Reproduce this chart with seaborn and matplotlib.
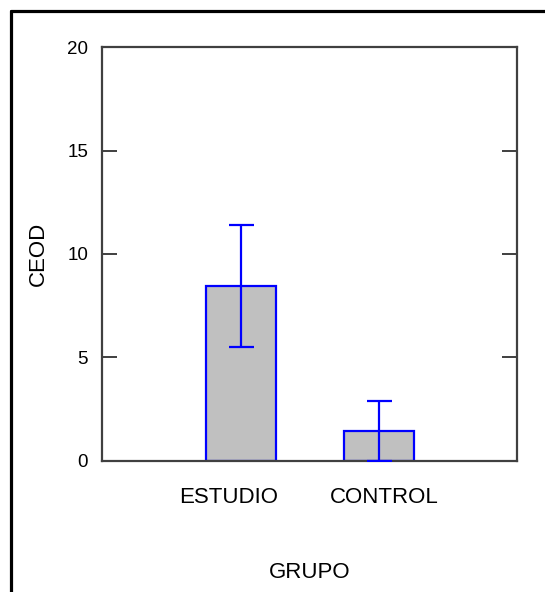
import matplotlib
matplotlib.use("Agg")
import matplotlib.pyplot as plt
import matplotlib.transforms as mtransforms
from matplotlib.lines import Line2D
import seaborn as sns
import pandas as pd

# values
grupos = ["ESTUDIO", "CONTROL"]
ceod_media = [8.45, 1.45]
ceod_error = [2.95, 1.45]

df = pd.DataFrame({"GRUPO": grupos, "CEOD": ceod_media})

sns.set_style("white")
plt.rcParams["font.family"] = ["Liberation Sans", "DejaVu Sans"]
plt.rcParams["text.color"] = "black"
plt.rcParams["axes.labelcolor"] = "black"
plt.rcParams["xtick.color"] = "black"
plt.rcParams["ytick.color"] = "black"
plt.rcParams["ytick.direction"] = "in"

fig = plt.figure(figsize=(5.45, 5.92), dpi=100)
ax = fig.add_axes([0.187, 0.2213, 0.7616, 0.6993])

sns.barplot(data=df, x="GRUPO", y="CEOD", order=grupos, color="#C0C0C0",
            edgecolor="#0000FF", linewidth=1.6, width=0.51, errorbar=None,
            saturation=1, ax=ax)
for bar in ax.patches:
    bar.set_facecolor("#C0C0C0")

ax.errorbar(x=range(len(grupos)), y=ceod_media, yerr=ceod_error, fmt="none",
            ecolor="#0000FF", elinewidth=1.6, capsize=9, capthick=1.6, zorder=5)

ax.set_xlim(-1.01, 2.0)
ax.set_ylim(0, 20)
ax.set_yticks([0, 5, 10, 15, 20])

for s in ax.spines.values():
    s.set_color("#404040")
    s.set_linewidth(1.6)
    s.set_visible(True)

ax.tick_params(axis="y", direction="in", length=11, width=1.3, color="#303030",
               labelcolor="black", left=True, right=True, labelsize=13.5, pad=10)
ax.tick_params(axis="x", length=0, labelsize=16, labelcolor="black", pad=19)

# the original labels sit a little off the bar centres
for lab, dx in zip(ax.get_xticklabels(), [-13, 5]):
    lab.set_transform(lab.get_transform() +
                      mtransforms.ScaledTranslation(dx / 100, 0, fig.dpi_scale_trans))

ax.set_xlabel("GRUPO", fontsize=16, color="black")
ax.set_ylabel("CEOD", fontsize=16, color="black")
ax.xaxis.set_label_coords(0.5, -0.2705)
ax.yaxis.set_label_coords(-0.154, 0.5)
ax.xaxis.label.set_va("center")
ax.yaxis.label.set_va("center")

# outer frame (clipped on right and bottom)
fig.add_artist(Line2D([11 / 545, 11 / 545], [0, 1 - 11 / 592], color="black",
                      linewidth=2.3, transform=fig.transFigure))
fig.add_artist(Line2D([11 / 545, 1], [1 - 11 / 592, 1 - 11 / 592], color="black",
                      linewidth=2.3, transform=fig.transFigure))

fig.savefig("out.png", dpi=100)
